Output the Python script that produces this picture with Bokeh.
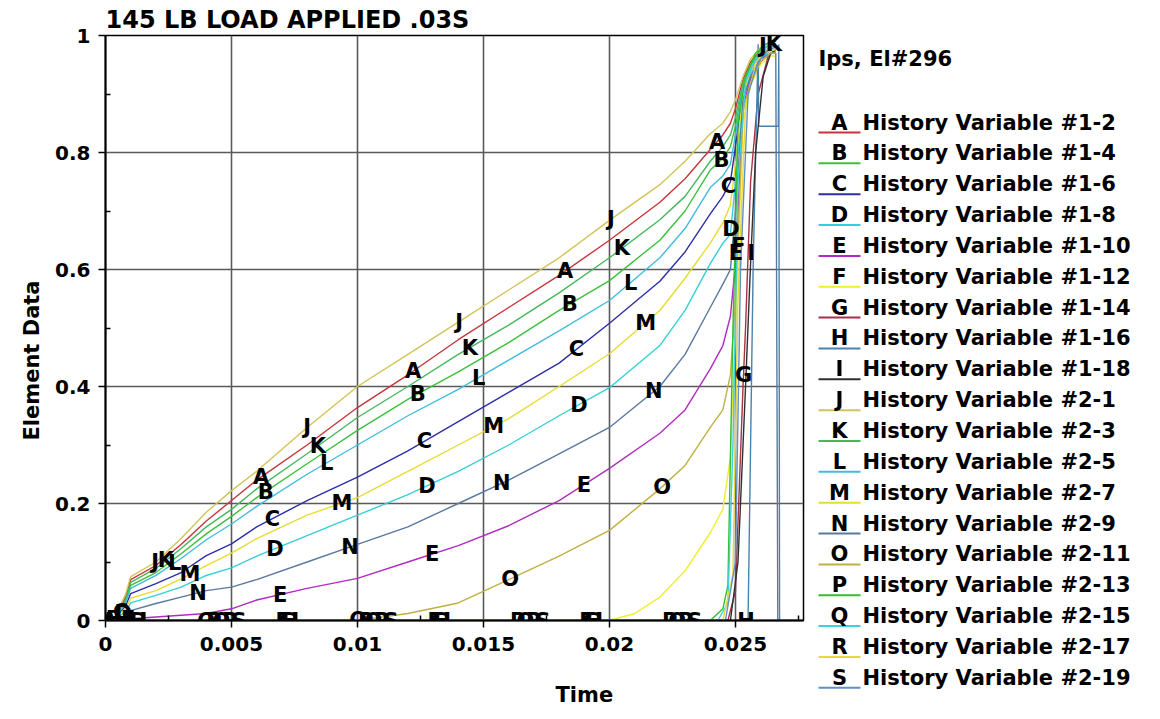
import numpy as np
from bokeh.plotting import figure
from bokeh.layouts import row
from bokeh.models import Range1d, FixedTicker, CustomJSTickFormatter, Title
from bokeh.core.properties import value
from bokeh.embed import file_html
from bokeh.resources import INLINE

FONT = "DejaVu Sans"

TITLE = "145 LB LOAD APPLIED .03S"
SUBTITLE = "Ips, El#296"
X_LABEL = "Time"
Y_LABEL = "Element Data"

LETTERS = list("ABCDEFGHIJKLMNOPQRS")
NAMES = ["History Variable #1-2", "History Variable #1-4", "History Variable #1-6",
         "History Variable #1-8", "History Variable #1-10", "History Variable #1-12",
         "History Variable #1-14", "History Variable #1-16", "History Variable #1-18",
         "History Variable #2-1", "History Variable #2-3", "History Variable #2-5",
         "History Variable #2-7", "History Variable #2-9", "History Variable #2-11",
         "History Variable #2-13", "History Variable #2-15", "History Variable #2-17",
         "History Variable #2-19"]
COLORS = ["#c8343a", "#3cc03c", "#2e2ea8", "#34d0d8", "#b02cc0", "#f0ee30",
          "#a83048", "#4a82ac", "#303030", "#d2c458", "#44b85c", "#40bcdc",
          "#e8dc30", "#5a78a0", "#c0b040", "#30c030", "#3cd0e0", "#e8d840",
          "#6090c8"]

X_TICKS = [0, 0.005, 0.01, 0.015, 0.02, 0.025]
X_MINOR = [0.0025, 0.0075, 0.0125, 0.0175, 0.0225, 0.0275]
Y_TICKS = [0, 0.2, 0.4, 0.6, 0.8, 1]
Y_MINOR = [0.1, 0.3, 0.5, 0.7, 0.9]

# curve-letter label placement (ms) as in the original plot
LABEL_OFFSET_MS = [0.15, 0.33, 0.6, 0.7, 0.9, 1.0, 1.2, 1.3, 1.5, 1.97, 2.4, 2.75,
                   3.35, 3.67, 4.0, 4.3, 4.6, 4.95, 5.3]
LABEL_PERIOD_MS = 6.03

# shared time base for the ramping curves (s)
T_RAMP = [0, 0.0003, 0.0008, 0.001, 0.002, 0.003, 0.004, 0.005, 0.006, 0.008, 0.010,
          0.012, 0.014, 0.016, 0.018, 0.020, 0.022, 0.023, 0.024, 0.0245, 0.0248,
          0.0250, 0.0253, 0.0256, 0.0260, 0.0264, 0.0266]

A_V = [0, 0, 0.04, 0.07, 0.094, 0.13, 0.17, 0.205, 0.24, 0.30, 0.364, 0.42, 0.48, 0.535,
       0.59, 0.65, 0.715, 0.755, 0.805, 0.83, 0.85, 0.875, 0.925, 0.955, 0.975, 0.985, 0.985]
B_V = [0, 0, 0.033, 0.06, 0.082, 0.114, 0.148, 0.178, 0.21, 0.268, 0.325, 0.378, 0.425,
       0.475, 0.53, 0.581, 0.65, 0.70, 0.77, 0.79, 0.81, 0.845, 0.915, 0.95, 0.97, 0.98, 0.98]
C_V = [0, 0, 0.025, 0.046, 0.063, 0.082, 0.111, 0.131, 0.16, 0.205, 0.245, 0.29, 0.34,
       0.39, 0.44, 0.508, 0.58, 0.63, 0.695, 0.725, 0.75, 0.81, 0.905, 0.94, 0.965, 0.98, 0.98]
D_V = [0, 0, 0.015, 0.03, 0.043, 0.057, 0.077, 0.09, 0.11, 0.145, 0.18, 0.215, 0.255,
       0.30, 0.35, 0.398, 0.47, 0.53, 0.61, 0.645, 0.66, 0.75, 0.895, 0.935, 0.96, 0.975, 0.975]
E_V = [0, 0, 0.001, 0.003, 0.006, 0.009, 0.012, 0.02, 0.035, 0.055, 0.072, 0.10, 0.128,
       0.162, 0.205, 0.26, 0.32, 0.36, 0.43, 0.47, 0.52, 0.61, 0.88, 0.925, 0.955, 0.97, 0.97]
J_V = [0, 0, 0.045, 0.075, 0.10, 0.14, 0.185, 0.222, 0.255, 0.33, 0.40, 0.455, 0.51,
       0.565, 0.62, 0.684, 0.745, 0.785, 0.832, 0.85, 0.87, 0.89, 0.93, 0.96, 0.98, 0.99, 0.99]
K_V = [0, 0, 0.036, 0.065, 0.089, 0.123, 0.16, 0.19, 0.225, 0.285, 0.347, 0.40, 0.455,
       0.505, 0.56, 0.62, 0.685, 0.725, 0.785, 0.81, 0.83, 0.86, 0.92, 0.95, 0.975, 0.985, 0.985]
L_V = [0, 0, 0.03, 0.055, 0.077, 0.106, 0.138, 0.165, 0.195, 0.25, 0.30, 0.35, 0.395,
       0.445, 0.495, 0.547, 0.62, 0.67, 0.74, 0.76, 0.78, 0.83, 0.91, 0.945, 0.97, 0.98, 0.98]
M_V = [0, 0, 0.02, 0.038, 0.051, 0.071, 0.094, 0.115, 0.14, 0.18, 0.21, 0.255, 0.30,
       0.345, 0.40, 0.456, 0.53, 0.585, 0.645, 0.68, 0.71, 0.78, 0.90, 0.94, 0.965, 0.975, 0.975]
N_V = [0, 0, 0.008, 0.017, 0.029, 0.040, 0.051, 0.057, 0.07, 0.10, 0.13, 0.16, 0.20,
       0.24, 0.285, 0.33, 0.40, 0.455, 0.535, 0.575, 0.60, 0.70, 0.89, 0.93, 0.96, 0.97, 0.97]
O_V = [0, 0, 0, 0, 0, 0, 0, 0, 0, 0, 0.0, 0.012, 0.03, 0.07, 0.11, 0.154, 0.225, 0.265,
       0.33, 0.36, 0.42, 0.55, 0.87, 0.92, 0.955, 0.97, 0.97]

# N falls back to zero at the end of the run
N_TAIL_T = [0.02668, 0.0275]
N_TAIL_V = [0, 0]

F_T = [0, 0.020, 0.021, 0.022, 0.023, 0.024, 0.0245, 0.0248, 0.025, 0.0253, 0.0256,
       0.026, 0.0264, 0.0266]
F_V = [0, 0, 0.012, 0.04, 0.085, 0.15, 0.19, 0.28, 0.50, 0.85, 0.915, 0.95, 0.965, 0.965]
G_T = [0, 0.0247, 0.0250, 0.0253, 0.0254, 0.0256, 0.0259, 0.0263, 0.0266]
G_V = [0, 0, 0.05, 0.40, 0.50, 0.75, 0.90, 0.965, 0.975]
H_T = [0, 0.0255, 0.0257, 0.0259, 0.02592, 0.0267, 0.02672, 0.02675, 0.0274]
H_V = [0, 0, 0.60, 0.985, 0.845, 0.845, 0.985, 0, 0]
I_T = [0, 0.0248, 0.0251, 0.0254, 0.0256, 0.0258, 0.0261, 0.0264, 0.0266]
I_V = [0, 0, 0.10, 0.40, 0.61, 0.80, 0.93, 0.97, 0.975]
P_T = [0, 0.0240, 0.0245, 0.0247, 0.0249, 0.0251, 0.0254, 0.0258, 0.0262, 0.0266]
P_V = [0, 0, 0.02, 0.06, 0.50, 0.85, 0.93, 0.97, 0.985, 0.99]
Q_T = [0, 0.0243, 0.0247, 0.0249, 0.0251, 0.0254, 0.0258, 0.0262, 0.0266]
Q_V = [0, 0, 0.03, 0.30, 0.75, 0.92, 0.96, 0.98, 0.985]
R_T = [0, 0.0245, 0.0249, 0.0251, 0.0254, 0.0258, 0.0262, 0.0266]
R_V = [0, 0, 0.08, 0.55, 0.88, 0.95, 0.975, 0.98]
S_T = [0, 0.0246, 0.0250, 0.0252, 0.0255, 0.0259, 0.0263, 0.0266]
S_V = [0, 0, 0.10, 0.60, 0.90, 0.955, 0.975, 0.98]

SERIES = [
    (T_RAMP, A_V), (T_RAMP, B_V), (T_RAMP, C_V), (T_RAMP, D_V), (T_RAMP, E_V),
    (F_T, F_V), (G_T, G_V), (H_T, H_V), (I_T, I_V),
    (T_RAMP, J_V), (T_RAMP, K_V), (T_RAMP, L_V), (T_RAMP, M_V),
    (T_RAMP + N_TAIL_T, N_V + N_TAIL_V), (T_RAMP, O_V),
    (P_T, P_V), (Q_T, Q_V), (R_T, R_V), (S_T, S_V),
]

# ---------------- main plot ----------------
p = figure(width=808, height=711, x_range=Range1d(0, 0.0277), y_range=Range1d(0, 1),
           output_backend="svg", toolbar_location=None,
           min_border_left=105, min_border_right=5, min_border_top=35, min_border_bottom=91)
p.background_fill_color = "white"
p.outline_line_color = "black"
p.outline_line_width = 1.5

p.title.text = TITLE
p.title.align = "left"
p.title.text_font = FONT
p.title.text_font_style = "bold"
p.title.text_font_size = "24px"
p.title.text_color = "black"
p.title.standoff = 4

fmt = CustomJSTickFormatter(code="return String(tick);")
p.xaxis.ticker = FixedTicker(ticks=X_TICKS, minor_ticks=X_MINOR)
p.yaxis.ticker = FixedTicker(ticks=Y_TICKS, minor_ticks=Y_MINOR)
p.xgrid.ticker = FixedTicker(ticks=X_TICKS)
p.ygrid.ticker = FixedTicker(ticks=Y_TICKS)
for g in (p.xgrid[0], p.ygrid[0]):
    g.grid_line_color = "#5a5a5a"
    g.grid_line_width = 1.6

for ax in (p.xaxis[0], p.yaxis[0]):
    ax.formatter = fmt
    ax.axis_line_color = "black"
    ax.axis_line_width = 2
    ax.major_tick_in = 0
    ax.major_tick_out = 7
    ax.minor_tick_in = 5
    ax.minor_tick_out = 0
    ax.major_tick_line_width = 1.5
    ax.minor_tick_line_width = 1.5
    ax.major_label_text_font = FONT
    ax.major_label_text_font_style = "bold"
    ax.major_label_text_font_size = "20px"
    ax.major_label_text_color = "black"
p.xaxis.major_label_standoff = 9
p.yaxis.major_label_standoff = 8

# axis titles sit off-centre in the original, as LS-PrePost places them
gap = Title(text=" ", text_font_size="12px", standoff=11)
x_title = Title(text=X_LABEL, align="left", offset=450, standoff=0,
                text_font=FONT, text_font_style="bold", text_font_size="21px",
                text_color="black")
y_title = Title(text=Y_LABEL, align="left", offset=180, standoff=18,
                text_font=FONT, text_font_style="bold", text_font_size="21px",
                text_color="black")
p.add_layout(gap, "below")
p.add_layout(x_title, "below")
p.add_layout(y_title, "left")

lab_x, lab_y, lab_t = [], [], []
for i, (t, v) in enumerate(SERIES):
    p.line(t, v, line_color=COLORS[i], line_width=1.4)
    t_arr = np.asarray(t, dtype=float)
    v_arr = np.asarray(v, dtype=float)
    k = 0
    while True:
        tm = (LABEL_OFFSET_MS[i] + k * LABEL_PERIOD_MS) / 1000.0
        if tm > t_arr[-1]:
            break
        lab_x.append(tm)
        lab_y.append(float(np.interp(tm, t_arr, v_arr)))
        lab_t.append(LETTERS[i])
        k += 1

p.text(lab_x, lab_y, text=lab_t, text_font=value(FONT), text_font_style="bold",
       text_font_size="21px", text_align="center", text_baseline="middle",
       text_color="black")

# ---------------- legend panel ----------------
q = figure(width=344, height=711, x_range=Range1d(0, 344), y_range=Range1d(711, 0),
           output_backend="svg", toolbar_location=None, min_border=0,
           x_axis_location=None, y_axis_location=None)
q.grid.visible = False
q.outline_line_color = None

for fig in (p, q):
    try:
        fig.frame_align = False
    except Exception:
        pass

q.text([10], [58], text=[SUBTITLE], text_font=value(FONT), text_font_style="bold",
       text_font_size="21px", text_align="left", text_baseline="middle",
       text_color="black")

row_y = [122 + 30.85 * i for i in range(len(LETTERS))]
q.segment(x0=[10] * len(LETTERS), y0=[y + 10 for y in row_y],
          x1=[52] * len(LETTERS), y1=[y + 10 for y in row_y],
          line_color=COLORS, line_width=2)
q.text([31] * len(LETTERS), row_y, text=LETTERS, text_font=value(FONT),
       text_font_style="bold", text_font_size="21px", text_align="center",
       text_baseline="middle", text_color="black")
q.text([54] * len(LETTERS), row_y, text=NAMES, text_font=value(FONT),
       text_font_style="bold", text_font_size="21px", text_align="left",
       text_baseline="middle", text_color="black")

layout = row(p, q)
open("out.html", "w").write(file_html(layout, INLINE))
